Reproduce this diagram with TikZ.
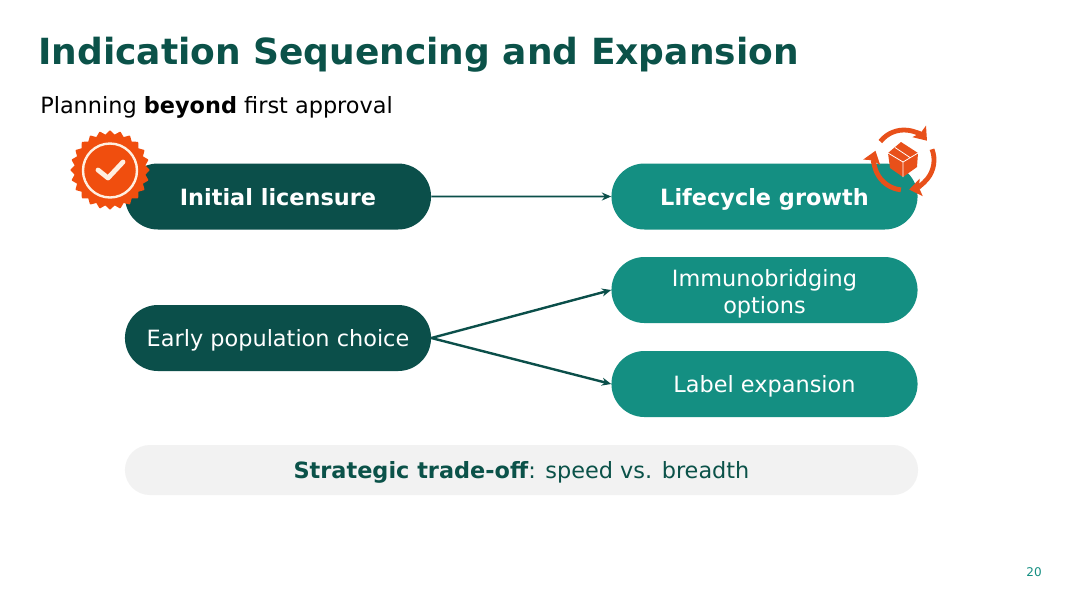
\documentclass[tikz,border=0pt]{standalone}
\usepackage{fontspec}
\setmainfont{DejaVu Sans}
\usepackage{xcolor}
\usetikzlibrary{arrows.meta,shapes.geometric,shapes.misc}
\definecolor{darkteal}{HTML}{0B4F4A}
\definecolor{midteal}{HTML}{148F82}
\definecolor{titleteal}{HTML}{0B5249}
\definecolor{barfill}{HTML}{F2F2F2}
\definecolor{iconorange}{HTML}{E8501A}
\definecolor{badgeorange}{HTML}{F04E0E}
\definecolor{ringcream}{HTML}{FFEFE0}
\newlength{\pxu}
\setlength{\pxu}{0.75pt}
\tikzset{
  pill/.style={rounded rectangle,draw=none,minimum width=315\pxu,minimum height=66\pxu,
    align=center,text=white,text height=13pt,text depth=0pt,font=\fontsize{16.8}{20.25}\selectfont},
  darkpill/.style={pill,fill=darkteal},
  tealpill/.style={pill,fill=midteal},
  link/.style={draw=darkteal,-{Stealth[length=7pt,width=6pt]}},
  cyclearrow/.style={draw=iconorange,line width=3.6pt,-{Stealth[length=9pt,width=13pt,inset=1.5pt]}},
}
\begin{document}
\begin{tikzpicture}[x=0.75pt,y=-0.75pt,>=Stealth]
  \useasboundingbox (0,0) rectangle (1080,608);
  \fill[white] (0,0) rectangle (1080,608);
  \node[anchor=base west,inner sep=0,text=titleteal,font=\bfseries\fontsize{27}{31}\selectfont] (title) at (38,64) {Indication Sequencing and Expansion};
  \node[anchor=base west,inner sep=0,font=\fontsize{16.8}{20}\selectfont] (subtitle) at (40,113) {Planning \textbf{beyond} first approval};
  \node[darkpill] (initial) at (278,196.5) {\textbf{Initial licensure}};
  \node[tealpill] (lifecycle) at (764.5,196.5) {\textbf{Lifecycle growth}};
  \node[darkpill] (early) at (278,338) {Early population choice};
  \node[tealpill,text height=35.5pt] (immuno) at (764.5,290) {Immunobridging\\options};
  \node[tealpill] (labelexp) at (764.5,384) {Label expansion};
  \node[rounded rectangle,fill=barfill,minimum width=802\pxu,minimum height=50\pxu,text=titleteal,text height=12.5pt,text depth=0pt,font=\fontsize{16.8}{20}\selectfont] (tradeoff) at (521.5,470) {\textbf{Strategic trade-off}: speed vs. breadth};
  \node[text=midteal,font=\fontsize{9}{11}\selectfont] (page) at (1034,572) {20};
  \draw[link,line width=1.3pt] (initial) -- (lifecycle);
  \draw[link,line width=1.8pt] (early.east) -- (immuno.west);
  \draw[link,line width=1.8pt] (early.east) -- (labelexp.west);
  % badge
  \node[star,star points=24,star point ratio=1.12,fill=badgeorange,draw=badgeorange,line width=1pt,line join=round,minimum size=78\pxu,inner sep=0] (badge) at (110,170) {};
  \draw[ringcream,line width=1.8pt] (110,170.5) circle[radius=27];
  \draw[ringcream,line width=3.6pt,line cap=round,line join=round] (98,170) -- (108,178) -- (123,162);
  % cycle icon
  \draw[cyclearrow] (904,160) ++(218:30) arc[start angle=218,end angle=320,radius=30];
  \draw[cyclearrow] (904,160) ++(339:30) arc[start angle=339,end angle=440,radius=30];
  \draw[cyclearrow] (904,160) ++(96:30) arc[start angle=96,end angle=198,radius=30];
  \fill[iconorange] (901,142) -- (918,153) -- (917,167) -- (903,177) -- (890,168) -- (888,153) -- cycle;
  \draw[white,line width=0.6pt] (888,153) -- (903,162) -- (918,153) (903,162) -- (903,177) (895,147.5) -- (910,157.5);
\end{tikzpicture}
\end{document}
